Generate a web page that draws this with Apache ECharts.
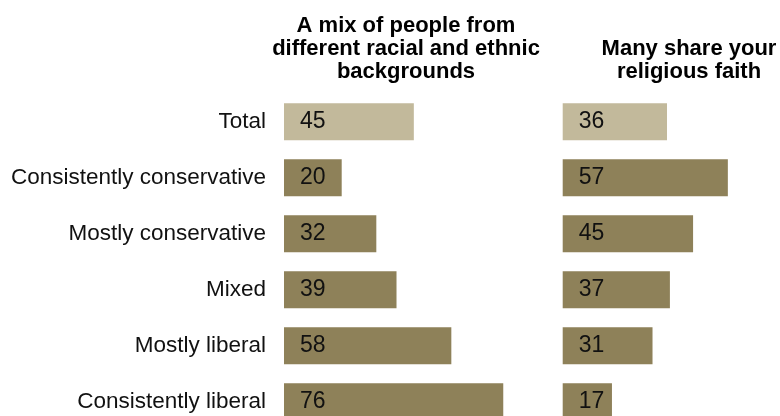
<!DOCTYPE html>
<html>
<head>
<meta charset="utf-8">
<script src="https://cdn.jsdelivr.net/npm/echarts@6/dist/echarts.min.js"></script>
<style>html,body{margin:0;padding:0;background:#fff}#c{width:780px;height:416px}</style>
</head>
<body>
<div id="c"></div>
<script>
const categories = ['Total', 'Consistently conservative', 'Mostly conservative', 'Mixed', 'Mostly liberal', 'Consistently liberal'];
const mixValues = [45, 20, 32, 39, 58, 76];
const faithValues = [36, 57, 45, 37, 31, 17];
const panelTitles = ['A mix of people from\ndifferent racial and ethnic\nbackgrounds', 'Many share your\nreligious faith'];

const LIGHT = '#C2B99B', DARK = '#8E8159';
const FONT = '"Liberation Sans", Arial, sans-serif';

function barData(vals) {
  return vals.map((v, i) => ({ value: v, itemStyle: { color: i === 0 ? LIGHT : DARK } }));
}

const chart = echarts.init(document.getElementById('c'));
const gridTop = 121.8, gridH = 280;
chart.setOption({
  animation: false,
  grid: [
    { left: 284, top: gridTop, width: 288.5, height: gridH },
    { left: 562.7, top: gridTop, width: 217.5, height: gridH }
  ],
  xAxis: [
    { gridIndex: 0, type: 'value', min: 0, max: 100, show: false },
    { gridIndex: 1, type: 'value', min: 0, max: 75, show: false }
  ],
  yAxis: [
    { gridIndex: 0, type: 'category', data: categories, inverse: true, boundaryGap: false,
      axisLine: { show: false }, axisTick: { show: false }, splitLine: { show: false },
      axisLabel: { margin: 18, fontSize: 22.5, color: '#111', fontFamily: FONT } },
    { gridIndex: 1, type: 'category', data: categories, inverse: true, boundaryGap: false, show: false }
  ],
  series: [
    { type: 'bar', xAxisIndex: 0, yAxisIndex: 0, data: barData(mixValues), barWidth: 37,
      label: { show: true, position: 'insideLeft', distance: 16, fontSize: 23, color: '#111', fontFamily: FONT } },
    { type: 'bar', xAxisIndex: 1, yAxisIndex: 1, data: barData(faithValues), barWidth: 37,
      label: { show: true, position: 'insideLeft', distance: 16, fontSize: 23, color: '#111', fontFamily: FONT } }
  ],
  graphic: [
    { type: 'text', x: 406, y: 15, style: { text: panelTitles[0], textAlign: 'center', fill: '#000',
      font: 'bold 22px ' + FONT, lineHeight: 22.7 } },
    { type: 'text', x: 689, y: 37.6, style: { text: panelTitles[1], textAlign: 'center', fill: '#000',
      font: 'bold 22px ' + FONT, lineHeight: 22.7 } }
  ]
});
</script>
</body>
</html>
